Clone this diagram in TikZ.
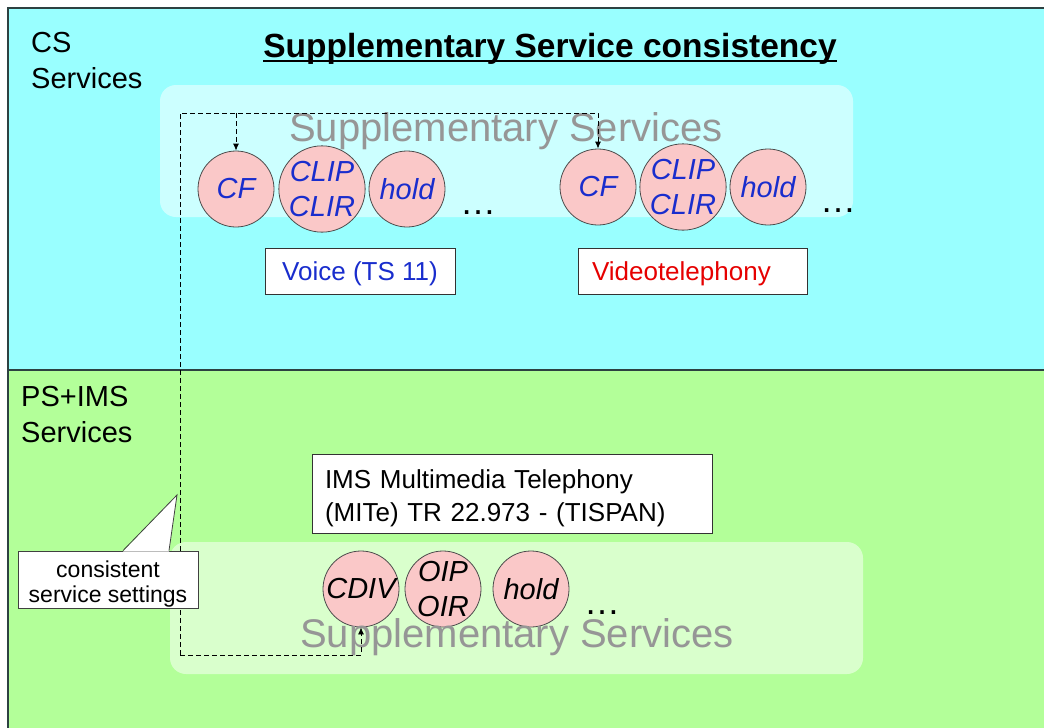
\documentclass[tikz,border=0pt]{standalone}
\usepackage{fontspec}
\setmainfont{Liberation Sans}
\usetikzlibrary{arrows.meta}
\definecolor{csbg}{RGB}{153,255,255}
\definecolor{psbg}{RGB}{179,255,153}
\definecolor{pinkc}{RGB}{250,200,200}
\definecolor{blutxt}{RGB}{25,45,205}
\definecolor{redtxt}{RGB}{230,0,0}
\definecolor{graytxt}{RGB}{150,150,150}
\definecolor{framec}{RGB}{45,65,65}
\begin{document}
\begin{tikzpicture}[x=1pt,y=-1pt,
 svc/.style={circle,draw=black!70,line width=0.8pt,fill=pinkc,minimum size=76pt,inner sep=0pt,align=center,font=\fontsize{29}{35}\selectfont\itshape},
 svctop/.style={svc,text=blutxt},
 svcbot/.style={svc,text=black},
 dots/.style={font=\fontsize{36}{36}\selectfont,anchor=base,inner sep=0pt},
 wbox/.style={draw=black!80,line width=0.8pt,fill=white,inner sep=0pt,font=\fontsize{26}{33}\selectfont},
 area/.style={fill=white,fill opacity=0.5,rounded corners=16pt},
 sstext/.style={text=graytxt,font=\fontsize{40}{40}\selectfont,anchor=base west,inner sep=0pt},
 seclabel/.style={font=\fontsize{29}{36}\selectfont,align=left,anchor=base west,inner sep=0pt},
 conn/.style={draw=black,line width=0.8pt,dash pattern=on 5pt off 3pt},
 tipar/.style={-{Latex[length=7pt,width=6pt]}}
]
\useasboundingbox (0,0) rectangle (1044,728);
\fill[white] (0,0) rectangle (1044,728);
\fill[csbg] (8,8) rectangle (1044,370);
\fill[psbg] (8,370) rectangle (1044,728);
\draw[framec,line width=1.2pt] (1044,8) -- (8,8) -- (8,728);
\draw[framec,line width=1.2pt] (8,370) -- (1044,370);

% light service areas
\path[area] (160,85) rectangle (853,217);
\path[area] (170,542) rectangle (863,674);

% section labels and title
\node[seclabel] (cs) at (31,88) {CS\\Services};
\node[seclabel] (ps) at (21,442) {PS+IMS\\Services};
\node[anchor=base,inner sep=0pt,font=\fontsize{33.5}{40}\selectfont\bfseries] (title) at (550,57) {Supplementary Service consistency};
\draw[line width=2pt] ([yshift=-4pt]title.base west) -- ([yshift=-4pt]title.base east);

\node[sstext] (ss1) at (289,141) {Supplementary Services};

% CS services
\node[svctop] (cf1) at (236,189) {CF};
\node[svctop] (clip1) at (322,189) {CLIP\\CLIR};
\node[svctop] (hold1) at (407,189) {hold};
\node[dots] (d1) at (478,214.5) {…};
\node[svctop] (cf2) at (598,187) {CF};
\node[svctop] (clip2) at (683,187) {CLIP\\CLIR};
\node[svctop] (hold2) at (768,187) {hold};
\node[dots] (d2) at (838,212.5) {…};

\node[wbox,text depth=0pt,minimum width=190pt,minimum height=46pt,text=blutxt] (voice) at (360,271) {Voice (TS 11)};
\node[wbox,text depth=0pt,text width=201pt,inner xsep=14pt,minimum height=46pt,align=left,text=redtxt] (video) at (692.5,271) {Videotelephony};

% PS+IMS services
\node[wbox,text height=27.5pt,text width=374pt,inner xsep=13pt,minimum height=79pt,align=left] (ims) at (512,493.5) {IMS Multimedia Telephony\\(MITe) TR 22.973 - (TISPAN)};

\node[svcbot] (cdiv) at (361,589) {CDIV};
\node[svcbot] (oip) at (443,589) {OIP\\OIR};
\node[svcbot] (hold3) at (531,589) {hold};
\node[dots] (d3) at (602,614) {…};

\node[sstext] (ss2) at (300,647) {Supplementary Services};

% dashed consistency connectors
\coordinate (tl) at (180,113);
\coordinate (bl) at (180,655);
\draw[conn,tipar] (bl) -- (tl) -- (tl -| cf2) -- (cf2.north);
\draw[conn,tipar] (tl -| cf1) -- (cf1.north);
\draw[conn,tipar] (bl) -- (bl -| cdiv) -- (cdiv.south);

% callout
\node[draw=black!75,line width=0.8pt,fill=white,minimum width=180pt,minimum height=57pt,inner sep=0pt,text height=45pt,text depth=0pt,align=center,font=\fontsize{23}{25}\selectfont] (call) at (108,579.5) {consistent\\service settings};
\coordinate (ctip) at (177,495);
\fill[white] ([xshift=15pt,yshift=-1pt]call.north) -- (ctip) -- ([xshift=61pt,yshift=-1pt]call.north) -- cycle;
\draw[black!75,line width=0.8pt] ([xshift=15pt]call.north) -- (ctip) -- ([xshift=61pt]call.north);
\end{tikzpicture}
\end{document}
